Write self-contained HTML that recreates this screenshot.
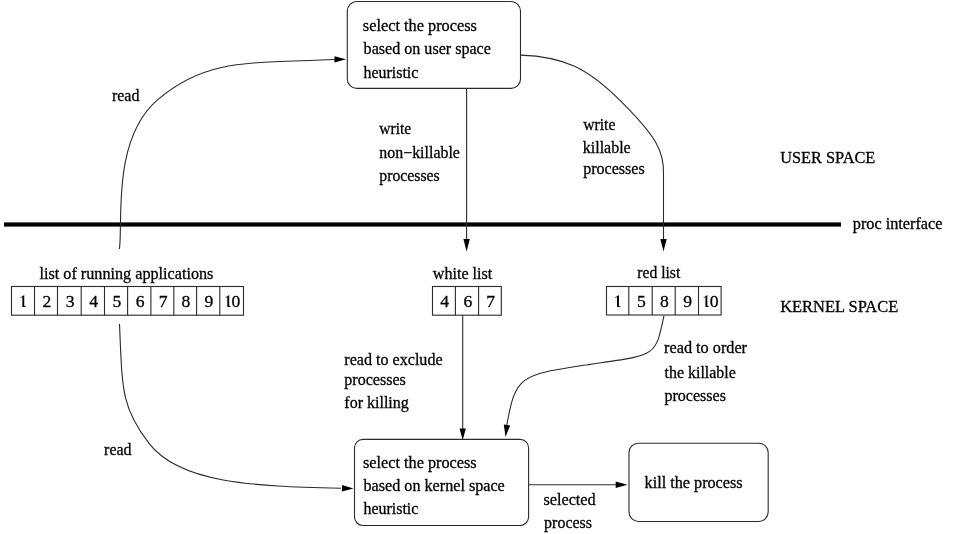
<!DOCTYPE html>
<html><head><meta charset="utf-8"><style>
html,body{margin:0;padding:0;background:#fff;width:960px;height:534px;overflow:hidden}
svg{display:block;will-change:transform}
text{font-family:"Liberation Serif",serif;font-size:16.3px;fill:#000;stroke:#000;stroke-width:0.3px}
text.d{font-size:17.6px}
</style></head><body>
<svg width="960" height="534" viewBox="0 0 960 534">
<rect x="347.3" y="1.5" width="173.2" height="86.9" rx="9.5" ry="9.5" fill="none" stroke="#2a2a2a" stroke-width="1.1"/>
<rect x="354.5" y="439.4" width="174.1" height="86.1" rx="8.5" ry="8.5" fill="none" stroke="#2a2a2a" stroke-width="1.1"/>
<rect x="629.0" y="443.2" width="139.2" height="78.3" rx="9.5" ry="9.5" fill="none" stroke="#2a2a2a" stroke-width="1.1"/>
<rect x="4" y="222.4" width="837" height="4.2" fill="#000"/>
<rect x="11.50" y="286.5" width="232.00" height="28.69999999999999" fill="none" stroke="#2a2a2a" stroke-width="1.1"/>
<line x1="34.50" y1="286.5" x2="34.50" y2="315.2" stroke="#2a2a2a" stroke-width="1.1"/>
<line x1="57.50" y1="286.5" x2="57.50" y2="315.2" stroke="#2a2a2a" stroke-width="1.1"/>
<line x1="81.20" y1="286.5" x2="81.20" y2="315.2" stroke="#2a2a2a" stroke-width="1.1"/>
<line x1="104.50" y1="286.5" x2="104.50" y2="315.2" stroke="#2a2a2a" stroke-width="1.1"/>
<line x1="127.60" y1="286.5" x2="127.60" y2="315.2" stroke="#2a2a2a" stroke-width="1.1"/>
<line x1="150.90" y1="286.5" x2="150.90" y2="315.2" stroke="#2a2a2a" stroke-width="1.1"/>
<line x1="173.80" y1="286.5" x2="173.80" y2="315.2" stroke="#2a2a2a" stroke-width="1.1"/>
<line x1="196.60" y1="286.5" x2="196.60" y2="315.2" stroke="#2a2a2a" stroke-width="1.1"/>
<line x1="219.80" y1="286.5" x2="219.80" y2="315.2" stroke="#2a2a2a" stroke-width="1.1"/>
<path transform="translate(23.30,307.00)" d="M-0.95,0 L-0.95,-10.0 L-2.7,-9.1 L-2.95,-9.6 L0.95,-12.0 L0.95,-1.4 Q1.1,-0.45 2.7,-0.45 L2.7,0 Z" fill="#000"/>
<text x="46.80" y="307.0" text-anchor="middle" class="d">2</text>
<text x="70.15" y="307.0" text-anchor="middle" class="d">3</text>
<text x="93.65" y="307.0" text-anchor="middle" class="d">4</text>
<text x="116.85" y="307.0" text-anchor="middle" class="d">5</text>
<text x="140.05" y="307.0" text-anchor="middle" class="d">6</text>
<text x="163.15" y="307.0" text-anchor="middle" class="d">7</text>
<text x="186.00" y="307.0" text-anchor="middle" class="d">8</text>
<text x="209.00" y="307.0" text-anchor="middle" class="d">9</text>
<path transform="translate(228.25,307.00)" d="M-0.95,0 L-0.95,-10.0 L-2.7,-9.1 L-2.95,-9.6 L0.95,-12.0 L0.95,-1.4 Q1.1,-0.45 2.7,-0.45 L2.7,0 Z" fill="#000"/>
<text x="235.95" y="307.0" text-anchor="middle" class="d">0</text>
<rect x="432.50" y="286.5" width="68.80" height="28.69999999999999" fill="none" stroke="#2a2a2a" stroke-width="1.1"/>
<line x1="455.40" y1="286.5" x2="455.40" y2="315.2" stroke="#2a2a2a" stroke-width="1.1"/>
<line x1="478.60" y1="286.5" x2="478.60" y2="315.2" stroke="#2a2a2a" stroke-width="1.1"/>
<text x="444.75" y="307.0" text-anchor="middle" class="d">4</text>
<text x="467.80" y="307.0" text-anchor="middle" class="d">6</text>
<text x="490.75" y="307.0" text-anchor="middle" class="d">7</text>
<rect x="606.50" y="286.5" width="114.60" height="28.5" fill="none" stroke="#2a2a2a" stroke-width="1.1"/>
<line x1="628.80" y1="286.5" x2="628.80" y2="315.0" stroke="#2a2a2a" stroke-width="1.1"/>
<line x1="652.20" y1="286.5" x2="652.20" y2="315.0" stroke="#2a2a2a" stroke-width="1.1"/>
<line x1="675.20" y1="286.5" x2="675.20" y2="315.0" stroke="#2a2a2a" stroke-width="1.1"/>
<line x1="698.50" y1="286.5" x2="698.50" y2="315.0" stroke="#2a2a2a" stroke-width="1.1"/>
<path transform="translate(617.95,307.00)" d="M-0.95,0 L-0.95,-10.0 L-2.7,-9.1 L-2.95,-9.6 L0.95,-12.0 L0.95,-1.4 Q1.1,-0.45 2.7,-0.45 L2.7,0 Z" fill="#000"/>
<text x="641.30" y="307.0" text-anchor="middle" class="d">5</text>
<text x="664.50" y="307.0" text-anchor="middle" class="d">8</text>
<text x="687.65" y="307.0" text-anchor="middle" class="d">9</text>
<path transform="translate(706.40,307.00)" d="M-0.95,0 L-0.95,-10.0 L-2.7,-9.1 L-2.95,-9.6 L0.95,-12.0 L0.95,-1.4 Q1.1,-0.45 2.7,-0.45 L2.7,0 Z" fill="#000"/>
<text x="714.10" y="307.0" text-anchor="middle" class="d">0</text>
<line x1="466.6" y1="88.5" x2="466.6" y2="240" fill="none" stroke="#2a2a2a" stroke-width="1.1"/>
<path d="M466.60,251.50 L463.40,239.00 L469.80,239.00 Z" fill="#000" stroke="none"/>
<path d="M520.60,55.10 C563.99,56.55 587.60,67.94 621.77,102.21 C655.77,136.31 664.56,151.42 663.50,175.00 L663.5,240" fill="none" stroke="#2a2a2a" stroke-width="1.1"/>
<path d="M663.50,251.50 L660.30,239.00 L666.70,239.00 Z" fill="#000" stroke="none"/>
<path d="M119.40,249.00 C123.27,224.73 111.17,139.75 157.49,99.87 C205.77,58.31 247.65,63.39 335.00,59.50" fill="none" stroke="#2a2a2a" stroke-width="1.1"/>
<path d="M346.00,59.30 L334.53,62.60 L334.47,56.20 Z" fill="#000" stroke="none"/>
<path d="M119.50,324.00 C122.32,390.28 121.35,407.59 149.01,443.45 C179.70,483.24 252.04,486.12 341.00,488.30" fill="none" stroke="#2a2a2a" stroke-width="1.1"/>
<path d="M353.50,488.50 L341.94,491.50 L342.06,485.10 Z" fill="#000" stroke="none"/>
<line x1="462.7" y1="315.2" x2="462.7" y2="430" fill="none" stroke="#2a2a2a" stroke-width="1.1"/>
<path d="M462.70,440.00 L459.50,428.50 L465.90,428.50 Z" fill="#000" stroke="none"/>
<path d="M664.00,315.50 C655.18,357.48 656.81,354.48 588.98,364.60 C519.91,374.89 515.76,375.21 506.80,425.00" fill="none" stroke="#2a2a2a" stroke-width="1.1"/>
<path d="M505.50,437.00 L503.82,424.60 L510.18,425.40 Z" fill="#000" stroke="none"/>
<line x1="528.7" y1="484.8" x2="617" y2="484.8" fill="none" stroke="#2a2a2a" stroke-width="1.1"/>
<path d="M627.50,484.80 L615.70,488.00 L615.70,481.60 Z" fill="#000" stroke="none"/>
<text x="362.80" y="30.90" textLength="114.10" lengthAdjust="spacingAndGlyphs">select the process</text>
<text x="363.60" y="54.30" textLength="127.28" lengthAdjust="spacingAndGlyphs">based on user space</text>
<text x="363.60" y="77.50" textLength="54.72" lengthAdjust="spacingAndGlyphs">heuristic</text>
<text x="111.90" y="100.60" textLength="27.51" lengthAdjust="spacingAndGlyphs">read</text>
<text x="379.30" y="133.70" textLength="31.90" lengthAdjust="spacingAndGlyphs">write</text>
<text x="379.30" y="157.60" textLength="80.61" lengthAdjust="spacingAndGlyphs">non−killable</text>
<text x="379.30" y="181.00" textLength="60.39" lengthAdjust="spacingAndGlyphs">processes</text>
<text x="583.20" y="129.50" textLength="32.20" lengthAdjust="spacingAndGlyphs">write</text>
<text x="582.80" y="152.70" textLength="47.89" lengthAdjust="spacingAndGlyphs">killable</text>
<text x="583.20" y="174.40" textLength="61.49" lengthAdjust="spacingAndGlyphs">processes</text>
<text x="780.20" y="162.60" textLength="95.09" lengthAdjust="spacingAndGlyphs" style="font-size:16.9px">USER SPACE</text>
<text x="852.80" y="229.20" textLength="89.68" lengthAdjust="spacingAndGlyphs">proc interface</text>
<text x="39.50" y="279.30" textLength="173.88" lengthAdjust="spacingAndGlyphs">list of running applications</text>
<text x="432.80" y="278.60" textLength="59.49" lengthAdjust="spacingAndGlyphs">white list</text>
<text x="637.30" y="278.30" textLength="42.99" lengthAdjust="spacingAndGlyphs">red list</text>
<text x="780.20" y="311.60" textLength="118.10" lengthAdjust="spacingAndGlyphs" style="font-size:16.9px">KERNEL SPACE</text>
<text x="344.30" y="365.00" textLength="98.31" lengthAdjust="spacingAndGlyphs">read to exclude</text>
<text x="344.30" y="385.30" textLength="61.49" lengthAdjust="spacingAndGlyphs">processes</text>
<text x="344.30" y="408.00" textLength="64.50" lengthAdjust="spacingAndGlyphs">for killing</text>
<text x="664.10" y="352.70" textLength="82.92" lengthAdjust="spacingAndGlyphs">read to order</text>
<text x="664.50" y="377.80" textLength="71.31" lengthAdjust="spacingAndGlyphs">the killable</text>
<text x="664.50" y="401.20" textLength="61.39" lengthAdjust="spacingAndGlyphs">processes</text>
<text x="104.10" y="455.00" textLength="27.51" lengthAdjust="spacingAndGlyphs">read</text>
<text x="362.90" y="467.80" textLength="113.80" lengthAdjust="spacingAndGlyphs">select the process</text>
<text x="363.50" y="490.90" textLength="141.28" lengthAdjust="spacingAndGlyphs">based on kernel space</text>
<text x="363.50" y="514.20" textLength="54.82" lengthAdjust="spacingAndGlyphs">heuristic</text>
<text x="644.60" y="488.20" textLength="97.99" lengthAdjust="spacingAndGlyphs">kill the process</text>
<text x="543.40" y="504.90" textLength="52.31" lengthAdjust="spacingAndGlyphs">selected</text>
<text x="544.10" y="528.10" textLength="47.89" lengthAdjust="spacingAndGlyphs">process</text>
</svg></body></html>
